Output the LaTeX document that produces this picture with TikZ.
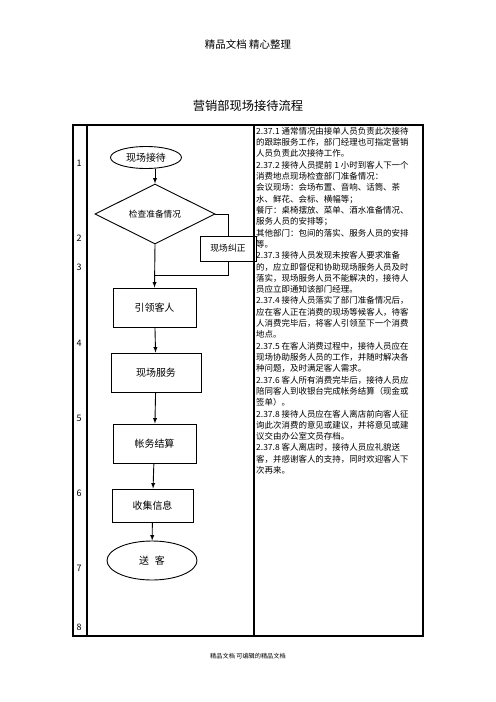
\documentclass[tikz,border=0pt]{standalone}
\usepackage{fontspec}
\newfontfamily\cjk{Noto Sans CJK SC}
\usetikzlibrary{shapes,backgrounds}
\usetikzlibrary{arrows}

\begin{document}
\begin{tikzpicture}[x=1bp,y=-1bp,
  every node/.style={font=\cjk\fontsize{10}{12}\selectfont},
  proc/.style={draw,line width=0.9bp,inner sep=0,minimum width=83bp,minimum height=39bp},
  term/.style={draw,ellipse,line width=0.9bp,inner sep=0},
  check/.style={draw,diamond,line width=0.9bp,inner sep=0,minimum width=120bp,minimum height=41bp,font=\cjk\fontsize{8.7}{10}\selectfont},
  arr/.style={-latex,line width=0.9bp}]
\useasboundingbox (0,0) rectangle (496,702);

\node[font=\cjk\fontsize{10.5}{12}\selectfont] (head) at (248,44) {精品文档 精心整理};
\node[font=\cjk\fontsize{12.3}{14}\selectfont] (title) at (248,106) {营销部现场接待流程};
\node[font=\cjk\fontsize{6.2}{7}\selectfont] (foot) at (248,656) {精品文档 可编辑的精品文档};

\draw[line width=1.1bp] (73,125) rectangle (423,636);
\draw[line width=1.1bp] (87,125) -- (87,636);
\draw[line width=1.1bp] (254,125) -- (254,636);

\node[font=\cjk\fontsize{9}{10}\selectfont] (n1) at (79,163) {1};
\node[font=\cjk\fontsize{9}{10}\selectfont] (n2) at (79,238) {2};
\node[font=\cjk\fontsize{9}{10}\selectfont] (n3) at (79,267) {3};
\node[font=\cjk\fontsize{9}{10}\selectfont] (n4) at (79,343) {4};
\node[font=\cjk\fontsize{9}{10}\selectfont] (n5) at (79,418) {5};
\node[font=\cjk\fontsize{9}{10}\selectfont] (n6) at (79,493) {6};
\node[font=\cjk\fontsize{9}{10}\selectfont] (n7) at (79,568) {7};
\node[font=\cjk\fontsize{9}{10}\selectfont] (n8) at (79,627) {8};

\node[term,minimum width=71bp,minimum height=22bp] (start) at (146,157.5) {现场接待};
\node[check] (look) at (155,214) {检查准备情况};
\node[draw,line width=0.9bp,inner sep=0,minimum width=56bp,minimum height=25bp,font=\cjk\fontsize{8.8}{10}\selectfont] (fix) at (228,248.5) {现场纠正};
\node[proc] (lead) at (154.5,307.5) {引领客人};
\node[proc,minimum width=90bp] (serve) at (156,372.5) {现场服务};
\node[proc] (bill) at (154.5,443.5) {帐务结算};
\node[proc,minimum width=81bp,minimum height=33bp] (info) at (152.5,505.5) {收集信息};
\node[term,minimum width=90bp,minimum height=39bp] (bye) at (152,560.5) {送\hspace{6bp}客};
\coordinate (join) at (155,275);

\draw[arr] (start.south -| look.north) -- (look.north);
\draw[line width=0.9bp] (look.east) -| (fix.north);
\draw[line width=0.9bp] (fix.south) |- (join);
\draw[arr] (look.south) -- (lead.north);
\draw[arr] (lead) -- (serve);
\draw[arr] (serve) -- (bill);
\draw[arr] (bill) -- (info);
\draw[arr] (info) -- (bye);

\node[anchor=north west,inner sep=0,align=left,font=\cjk\fontsize{8.5}{11.35}\selectfont] (notes) at (256,127) {%
2.37.1 通常情况由接单人员负责此次接待\\
的跟踪服务工作，部门经理也可指定营销\\
人员负责此次接待工作。\\
2.37.2 接待人员提前 1 小时到客人下一个\\
消费地点现场检查部门准备情况：\\
会议现场：会场布置、音响、话筒、茶\\
水、鲜花、会标、横幅等；\\
餐厅：桌椅摆放、菜单、酒水准备情况、\\
服务人员的安排等；\\
其他部门：包间的落实、服务人员的安排\\
等。\\
2.37.3 接待人员发现未按客人要求准备\\
的，应立即督促和协助现场服务人员及时\\
落实，现场服务人员不能解决的，接待人\\
员应立即通知该部门经理。\\
2.37.4 接待人员落实了部门准备情况后，\\
应在客人正在消费的现场等候客人，待客\\
人消费完毕后，将客人引领至下一个消费\\
地点。\\
2.37.5 在客人消费过程中，接待人员应在\\
现场协助服务人员的工作，并随时解决各\\
种问题，及时满足客人需求。\\
2.37.6 客人所有消费完毕后，接待人员应\\
陪同客人到收银台完成帐务结算（现金或\\
签单）。\\
2.37.8 接待人员应在客人离店前向客人征\\
询此次消费的意见或建议，并将意见或建\\
议交由办公室文员存档。\\
2.37.8 客人离店时，接待人员应礼貌送\\
客，并感谢客人的支持，同时欢迎客人下\\
次再来。};

\end{tikzpicture}
\end{document}
